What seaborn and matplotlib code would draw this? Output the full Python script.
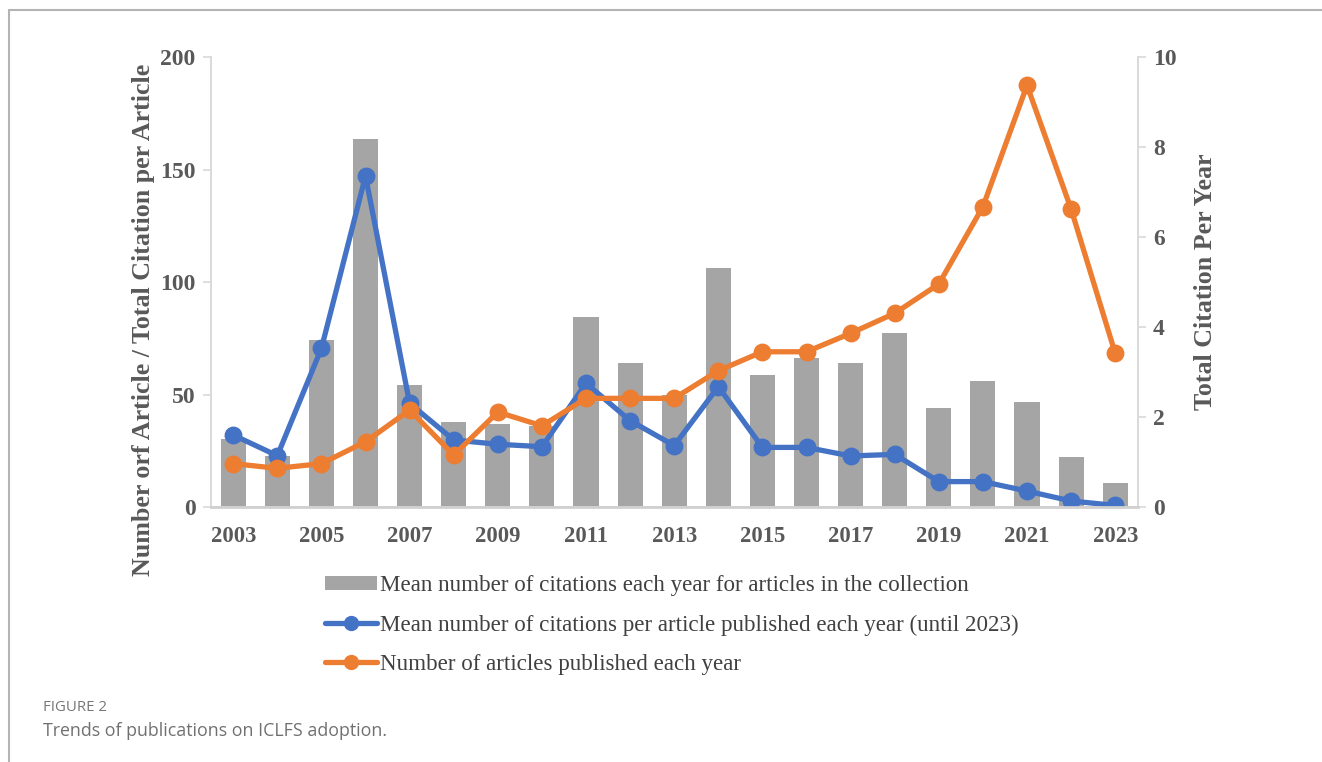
import numpy as np
import pandas as pd
import matplotlib
matplotlib.use("Agg")
import matplotlib.pyplot as plt
from matplotlib.lines import Line2D
from matplotlib.patches import Patch
import seaborn as sns

# ---- data ----
years = list(range(2003, 2024))
# mean number of citations each year for articles in the collection (right axis)
mean_citations_year = [1.51, 1.14, 3.71, 8.17, 2.71, 1.88, 1.85, 1.80, 4.22, 3.19, 2.49,
                       5.31, 2.94, 3.32, 3.21, 3.87, 2.21, 2.81, 2.33, 1.11, 0.54]
# mean number of citations per article published each year (left axis)
mean_citations_article = [32.0, 22.8, 70.5, 147.1, 46.1, 29.8, 27.9, 26.8, 55.0, 38.4, 27.3,
                          53.5, 26.5, 26.5, 22.7, 23.4, 11.3, 11.3, 7.1, 2.7, 0.7]
# number of articles published each year (left axis)
articles_published = [19.3, 17.2, 19.3, 29.0, 43.1, 23.1, 42.2, 36.1, 48.3, 48.3, 48.3,
                      60.6, 69.0, 69.0, 77.2, 86.1, 99.1, 133.5, 187.4, 132.4, 68.3]

left_ticks = [0, 50, 100, 150, 200]
right_ticks = [0, 2, 4, 6, 8, 10]
xtick_years = years[::2]

labels = ["Mean number of citations each year for articles in the collection",
          "Mean number of citations per article published each year (until 2023)",
          "Number of articles published each year"]

df = pd.DataFrame({"year": [str(y) for y in years],
                   "bars": mean_citations_year,
                   "blue": mean_citations_article,
                   "orange": articles_published})

GRAY = "#A5A5A5"
BLUE = "#4472C4"
ORANGE = "#ED7D31"
TXT = "#595959"
SPINE = "#D9D9D9"
serif = "Liberation Serif"

sns.set_theme(style="white")
plt.rcParams["font.family"] = [serif, "DejaVu Serif"]

fig = plt.figure(figsize=(13.22, 7.62), dpi=100)
ax = fig.add_axes([0.1594, 0.3346, 0.7012, 0.5906])
ax2 = ax.twinx()

# bars on the right axis, lines on the left axis drawn above them
sns.barplot(data=df, x="year", y="bars", color=GRAY, saturation=1, width=0.57,
            ax=ax2, linewidth=0)
sns.pointplot(data=df, x="year", y="blue", color=BLUE, markers="o", markersize=10,
              linewidth=3.8, ax=ax)
sns.pointplot(data=df, x="year", y="orange", color=ORANGE, markers="o", markersize=10,
              linewidth=3.8, ax=ax)

ax.set_zorder(ax2.get_zorder() + 1)
ax.patch.set_visible(False)

for a in (ax, ax2):
    a.set_xlim(-0.51, len(years) - 0.49)
    a.set_xlabel("")
    a.set_ylabel("")
    a.spines["top"].set_visible(False)
    for s in ("left", "right", "bottom"):
        a.spines[s].set_color(SPINE)
        a.spines[s].set_linewidth(1.2)
ax.spines["bottom"].set_linewidth(2.0)
ax.spines["bottom"].set_color("#D0D0D0")

ax.set_ylim(0, 200)
ax.set_yticks(left_ticks)
ax.set_yticklabels([str(t) for t in left_ticks])
ax2.set_ylim(0, 10)
ax2.set_yticks(right_ticks)
ax2.set_yticklabels([str(t) for t in right_ticks])

pos = [years.index(y) for y in xtick_years]
ax.set_xticks(pos)
ax.set_xticklabels([str(y) for y in xtick_years])

ax.tick_params(axis="x", length=0, pad=14, labelsize=16.3, labelcolor=TXT)
ax.tick_params(axis="y", left=True, length=6, width=1.2, color=SPINE, pad=5,
               labelsize=17, labelcolor=TXT)
ax2.tick_params(axis="y", right=True, length=6, width=1.2, color=SPINE, pad=5,
                labelsize=17, labelcolor=TXT)
for lab in ax.get_xticklabels() + ax.get_yticklabels() + ax2.get_yticklabels():
    lab.set_fontweight("bold")

fig.text(0.1082, 0.58, "Number orf Article / Total Citation per Article", rotation=90,
         ha="center", va="center", fontsize=18.7, fontweight="bold", color=TXT)
fig.text(0.912, 0.63, "Total Citation Per Year", rotation=90,
         ha="center", va="center", fontsize=18.7, fontweight="bold", color=TXT)

handles = [Patch(facecolor=GRAY, edgecolor="none"),
           Line2D([], [], color=BLUE, lw=3.8, marker="o", markersize=10),
           Line2D([], [], color=ORANGE, lw=3.8, marker="o", markersize=10)]
fig.legend(handles, labels, loc="upper left", bbox_to_anchor=(0.2458, 0.2454),
           frameon=False, fontsize=16.6, handlelength=2.27, handletextpad=0.1,
           handleheight=0.6, labelspacing=0.8, labelcolor="#404040",
           borderaxespad=0, borderpad=0)

# figure frame and caption
fig.add_artist(Line2D([0.0068, 0.0068], [0, 0.9869], color="#B4B4B4", lw=1.5,
                      transform=fig.transFigure))
fig.add_artist(Line2D([0.0068, 1.0], [0.9869, 0.9869], color="#B4B4B4", lw=1.5,
                      transform=fig.transFigure))
fig.text(0.0325, 0.072, "FIGURE 2", fontsize=10.8, color="#767676",
         family=["Open Sans", "DejaVu Sans"], va="center")
fig.text(0.0325, 0.041, "Trends of publications on ICLFS adoption.", fontsize=12.8,
         color="#707070", family=["Open Sans", "DejaVu Sans"], va="center")

fig.savefig("out.png", dpi=100)
